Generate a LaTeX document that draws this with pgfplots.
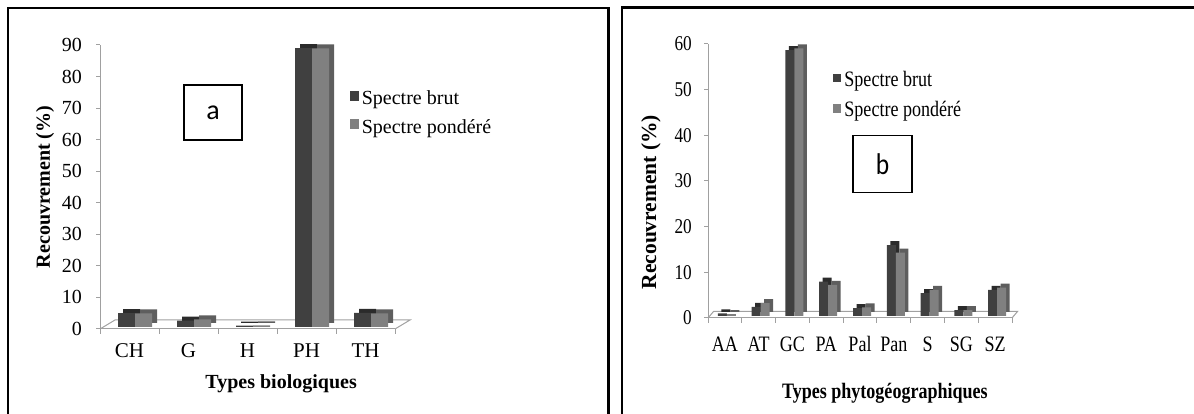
\documentclass[border=0pt]{standalone}
\usepackage{pgfplots}
\pgfplotsset{compat=1.18}
\usepackage{pgfplotstable}
\usepackage{fontspec}
\setmainfont{Liberation Serif}
\newfontfamily\narrowserif{Liberation Serif}[FakeStretch=0.82]
\newfontfamily\boxfont{Carlito}
\newfontfamily\narrowbox{Carlito}[FakeStretch=0.85]

\definecolor{brut}{HTML}{404040}
\definecolor{brutside}{HTML}{2B2B2B}
\definecolor{pond}{HTML}{808080}
\definecolor{pondside}{HTML}{5E5E5E}
\definecolor{axgray}{HTML}{A0A0A0}

% types biologiques (a)
\pgfplotstableread{
x brut pond
0 4.4 4.3
1 2.0 2.4
2 0.4 0.5
3 88.4 88.3
4 4.5 4.3
}\bioTable

% types phytogeographiques (b)
\pgfplotstableread{
x brut pond
0 0.6 0.4
1 2.0 2.8
2 58.2 58.6
3 7.5 6.8
4 1.7 1.9
5 15.5 13.9
6 5.0 5.7
7 1.3 1.3
8 5.7 6.2
}\geoTable

\pgfplotsset{
  spectre/.style={
    scale only axis, clip=false,
    axis x line*=bottom, axis y line*=left,
    axis line style={axgray, line width=1pt},
    tick style={axgray, line width=1pt},
    tick align=outside,
    major tick length=4pt, minor tick length=5pt,
    major x tick style={draw=none},
    ytick pos=left,
    /pgf/number format/assume math mode=true,
    legend cell align=left,
    legend style={draw=none, fill=none, inner sep=0pt, outer sep=0pt,
      anchor=north west, column sep=3pt, nodes={inner sep=0pt}},
  },
}

\begin{document}
\begin{tikzpicture}
\useasboundingbox (0,0) rectangle (1194pt,414pt);

% cadres
\draw[line width=2.3pt] (8.3pt,-3pt) -- (8.3pt,405.7pt) -- (608.5pt,405.7pt) -- (608.5pt,-3pt);
\draw[line width=1.5pt] (621.8pt,-3pt) -- (621.8pt,406.5pt);
\draw[line width=2.5pt] (621pt,406.5pt) -- (1198pt,406.5pt);

% ---------- a ----------
\begin{axis}[spectre,
  at={(100pt,85pt)}, anchor=south west,
  width=295pt, height=284pt,
  xmin=-0.5, xmax=4.5, ymin=0, ymax=90,
  xtick={0,...,4}, xticklabels={CH,G,H,PH,TH},
  minor xtick={-0.5,0.5,...,4.5},
  ytick={0,10,...,90},
  tick label style={font=\fontsize{20}{24}\selectfont},
  xticklabel style={anchor=base, inner sep=0pt, yshift=-25pt,
    font=\fontsize{21}{24}\selectfont},
  yticklabel style={anchor=east, inner sep=0pt, xshift=-14pt},
  xlabel={Types biologiques},
  ylabel={Recouvrement (\%)},
  label style={font=\bfseries\fontsize{20}{24}\selectfont},
  xlabel style={at={(axis description cs:0.614,-0.208)}, anchor=base},
  ylabel style={at={(axis description cs:-0.186,0.5)}, anchor=center},
  legend style={at={(axis description cs:0.847,0.848)},
    font=\fontsize{20}{24}\selectfont, row sep=10pt},
  legend image code/.code={\fill[#1] (0pt,-3.3pt) rectangle (9pt,6.7pt);},
]
\addlegendimage{fill=brut, draw=none}
\addlegendentry{\strut Spectre brut}
\addlegendimage{fill=pond, draw=none}
\addlegendentry{\strut Spectre pondéré}

\draw[axgray, line width=1pt] (axis cs:-0.5,0) -- ++(15pt,9pt)
  -- ([shift={(15pt,9pt)}]axis cs:4.5,0) -- (axis cs:4.5,0);

% faces arriere (dessus et cote)
\addplot[ybar, bar width=17pt, bar shift=2pt, yshift=6pt, fill=brutside, draw=none, forget plot]
  table[x=x, y=brut] {\bioTable};
\addplot[ybar, bar width=17pt, bar shift=19pt, yshift=6pt, fill=pondside, draw=none, forget plot]
  table[x=x, y=pond] {\bioTable};
% faces avant
\addplot[ybar, bar width=17pt, bar shift=-3pt, yshift=2pt, fill=brut, draw=none, forget plot]
  table[x=x, y=brut] {\bioTable};
\addplot[ybar, bar width=17pt, bar shift=14pt, yshift=2pt, fill=pond, draw=none, forget plot]
  table[x=x, y=pond] {\bioTable};
\end{axis}

\node[draw, line width=1.5pt, minimum width=58pt, minimum height=55pt,
  inner sep=0pt, font=\boxfont\fontsize{28}{30}\selectfont] at (213pt,301.5pt) {a};

% ---------- b ----------
\begin{axis}[spectre,
  at={(708pt,96pt)}, anchor=south west,
  width=304pt, height=274pt,
  xmin=-0.5, xmax=8.5, ymin=0, ymax=60,
  xtick={0,...,8}, xticklabels={AA,AT,GC,PA,Pal,Pan,S,SG,SZ},
  minor xtick={-0.5,0.5,...,8.5},
  ytick={0,10,...,60},
  tick label style={font=\narrowserif\fontsize{21}{24}\selectfont},
  xticklabel style={anchor=base, inner sep=0pt, yshift=-29.7pt,
    font=\narrowserif\fontsize{22}{24}\selectfont},
  yticklabel style={anchor=east, inner sep=0pt, xshift=-12pt},
  xlabel={Types phytogéographiques},
  ylabel={Recouvrement (\%)},
  xlabel style={at={(axis description cs:0.582,-0.292)}, anchor=base,
    font=\narrowserif\bfseries\fontsize{22}{26}\selectfont},
  ylabel style={at={(axis description cs:-0.1875,0.423)}, anchor=center,
    font=\bfseries\fontsize{21.5}{24}\selectfont},
  legend style={at={(axis description cs:0.411,0.913)},
    font=\narrowserif\fontsize{22}{26}\selectfont, row sep=11pt},
  legend image code/.code={\fill[#1] (0pt,-4.5pt) rectangle (8.5pt,4pt);},
]
\addlegendimage{fill=brut, draw=none}
\addlegendentry{\strut Spectre brut}
\addlegendimage{fill=pond, draw=none}
\addlegendentry{\strut Spectre pondéré}

\draw[axgray, line width=1pt] (axis cs:-0.5,0) -- ++(5.5pt,6.5pt)
  -- ([shift={(5.5pt,6.5pt)}]axis cs:8.5,0) -- (axis cs:8.5,0);

\addplot[ybar, bar width=9pt, bar shift=1pt, yshift=6pt, fill=brutside, draw=none, forget plot]
  table[x=x, y=brut] {\geoTable};
\addplot[ybar, bar width=9pt, bar shift=10pt, yshift=6pt, fill=pondside, draw=none, forget plot]
  table[x=x, y=pond] {\geoTable};
\addplot[ybar, bar width=9pt, bar shift=-2.5pt, yshift=2pt, fill=brut, draw=none, forget plot]
  table[x=x, y=brut] {\geoTable};
\addplot[ybar, bar width=9pt, bar shift=6.5pt, yshift=2pt, fill=pond, draw=none, forget plot]
  table[x=x, y=pond] {\geoTable};
\end{axis}

\node[draw, line width=1.5pt, minimum width=59pt, minimum height=57pt,
  inner sep=0pt, font=\narrowbox\fontsize{30}{32}\selectfont] at (882.5pt,250pt) {b};
\end{tikzpicture}
\end{document}
